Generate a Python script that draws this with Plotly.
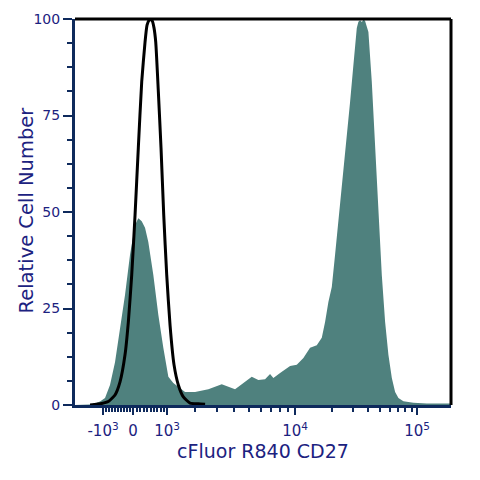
import numpy as np
import plotly.graph_objects as go

# ---- axis scale calibration (biexponential display, channel units 0-997 across the plot)
scale_values = [-1000, 0, 1000, 10000, 100000]
scale_channels = [74.3, 153.8, 244.0, 583.6, 907.2]

major_tick_values = [-1000, 0, 1000, 10000, 100000]
major_tick_labels = ["-10<sup>3</sup>", "0", "10<sup>3</sup>", "10<sup>4</sup>", "10<sup>5</sup>"]
minor_tick_values = ([v for v in range(-900, 0, 100)] + [v for v in range(100, 1000, 100)]
                     + [v for v in range(2000, 10000, 1000)] + [v for v in range(20000, 100000, 10000)])

y_tick_values = [0, 25, 50, 75, 100]


def to_channel(v):
    u = np.arcsinh(np.asarray(v, dtype=float) / 2000.0)
    return np.interp(u, np.arcsinh(np.array(scale_values, dtype=float) / 2000.0), scale_channels)


# ---- histogram data (display channel, % of max)
stained_channel = [0, 39.8, 53.1, 66.3, 79.6, 92.8, 106.1, 119.4, 132.6, 145.9, 159.2, 167.9, 172.5,
                   176.9, 185.7, 194.4, 207.7, 221.0, 234.2, 247.5, 260.7, 274.0, 291.8, 318.3, 353.6,
                   389.1, 424.4, 442.2, 468.7, 486.2, 504.0, 517.2, 526.0, 543.8, 561.5, 570.3, 588.1,
                   605.6, 623.3, 641.1, 654.4, 663.1, 671.9, 680.9, 689.6, 702.9, 716.2, 729.4, 738.2,
                   747.2, 751.5, 756.0, 760.5, 765.3, 769.2, 778.0, 787.0, 795.8, 804.5, 813.5, 822.3,
                   831.0, 840.1, 848.8, 857.6, 870.8, 897.3, 932.9, 997]
stained_pct = [0, 0.1, 0.4, 0.9, 1.8, 5.2, 11.1, 19.9, 28.5, 38.9, 46.6, 48.4, 48.0,
               47.6, 45.9, 42.2, 33.7, 23.3, 14.8, 7.3, 5.7, 4.7, 3.4, 3.4, 4.1,
               5.4, 4.1, 5.4, 7.3, 6.5, 6.7, 8.0, 7.0, 8.3, 9.6, 10.1, 10.4,
               12.2, 14.8, 15.5, 17.4, 21.5, 26.7, 30.6, 38.9, 51.8, 64.8, 78.5, 88.1,
               97.7, 99.3, 99.7, 99.2, 99.9, 99.5, 96.6, 83.7, 66.6, 49.2, 33.7, 21.5,
               13.0, 7.0, 3.4, 1.8, 1.0, 0.6, 0.4, 0.4]

control_channel = [40, 70.8, 88.3, 106.1, 119.4, 132.6, 141.4, 150.4, 159.2, 167.9, 176.9, 185.7,
                   191.0, 196.3, 200.3, 205.0, 209.5, 214.1, 221.0, 228.1, 235.3, 243.2, 252.0,
                   262.6, 274.0, 287.3, 305.0, 327.1, 345]
control_pct = [0, 0.4, 0.9, 2.6, 6.0, 13.0, 21.5, 33.7, 49.2, 66.6, 83.7, 94.0,
               98.4, 99.7, 99.9, 99.5, 97.7, 94.0, 81.1, 66.6, 49.2, 33.7, 20.7,
               10.4, 5.2, 2.1, 0.5, 0.3, 0.2]

NAVY_AXIS = "#0e2a5c"
NAVY_TEXT = "#1c2280"
TEAL = "#4f817e"
FONT = "DejaVu Sans"

fig = go.Figure()
fig.add_trace(go.Scatter(x=stained_channel, y=stained_pct, mode="lines", fill="tozeroy",
                         fillcolor=TEAL, line=dict(width=0, color=TEAL), hoverinfo="skip",
                         showlegend=False))
fig.add_trace(go.Scatter(x=control_channel, y=control_pct, mode="lines",
                         line=dict(width=3, color="black", shape="spline", smoothing=0.5),
                         hoverinfo="skip", showlegend=False))

fig.update_layout(
    width=480, height=480,
    margin=dict(l=75, r=29, t=19, b=75),
    paper_bgcolor="white", plot_bgcolor="white",
    font=dict(family=FONT, color=NAVY_TEXT, size=14),
    xaxis=dict(
        range=[0, 997], showgrid=False, zeroline=False,
        showline=True, linecolor=NAVY_AXIS, linewidth=3,
        tickmode="array", tickvals=list(to_channel(major_tick_values)), ticktext=major_tick_labels,
        ticks="outside", ticklen=7, tickwidth=2, tickcolor=NAVY_AXIS,
        tickfont=dict(family=FONT, size=15, color=NAVY_TEXT),
        ticklabelstandoff=3,
        minor=dict(tickmode="array", tickvals=list(to_channel(minor_tick_values)),
                   ticks="outside", ticklen=4, tickwidth=1.5, tickcolor=NAVY_AXIS, showgrid=False),
        title=dict(text="cFluor R840 CD27", font=dict(family=FONT, size=19, color=NAVY_TEXT),
                   standoff=3),
    ),
    yaxis=dict(
        range=[0, 100], showgrid=False, zeroline=False,
        showline=True, linecolor=NAVY_AXIS, linewidth=3,
        tickmode="array", tickvals=y_tick_values, ticktext=[str(v) for v in y_tick_values],
        ticks="outside", ticklen=9, tickwidth=2, tickcolor=NAVY_AXIS,
        tickfont=dict(family=FONT, size=14, color=NAVY_TEXT),
        minor=dict(dtick=6.25, tick0=0, ticks="outside", ticklen=5, tickwidth=1.5,
                   tickcolor=NAVY_AXIS, showgrid=False),
    ),
    annotations=[
        dict(text="Relative Cell Number", xref="paper", yref="paper", x=-0.1303, y=0.504,
             textangle=-90, showarrow=False, xanchor="center", yanchor="middle",
             font=dict(family=FONT, size=19.5, color=NAVY_TEXT)),
    ],
    shapes=[
        dict(type="line", xref="paper", yref="paper", x0=0, x1=1, y0=1, y1=1,
             line=dict(color="black", width=3)),
        dict(type="line", xref="paper", yref="paper", x0=1, x1=1, y0=0, y1=1,
             line=dict(color="black", width=3)),
    ],
)

fig.write_html("out.html")
